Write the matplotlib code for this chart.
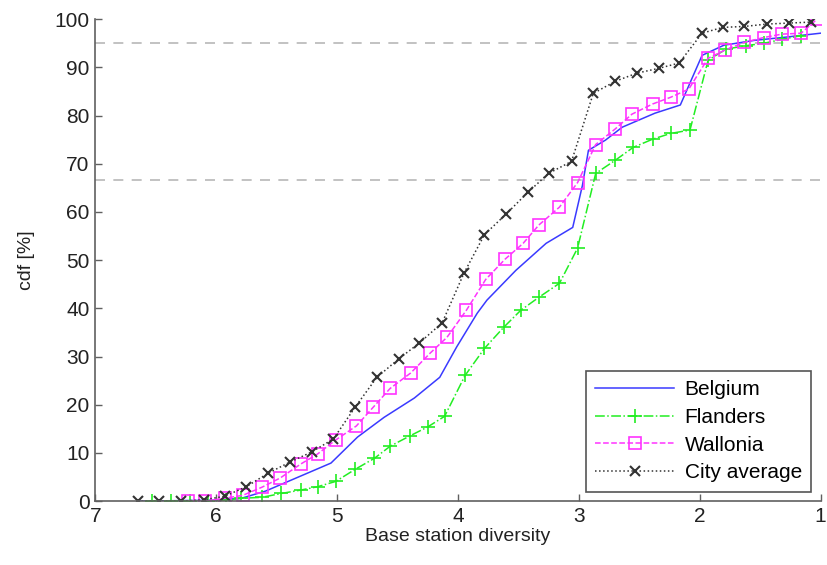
import matplotlib
matplotlib.use("Agg")
import matplotlib.pyplot as plt

plt.rcParams['font.family'] = ['Liberation Sans', 'DejaVu Sans']

# Belgium (solid line, no markers)
bel_x = [6.65, 6.02, 5.79, 5.59, 5.32, 5.05, 4.83, 4.61, 4.36, 4.15, 4.01, 3.84,
         3.76, 3.52, 3.27, 3.05, 2.97, 2.92, 2.78, 2.64, 2.37, 2.16, 1.98, 1.80,
         1.55, 1.28, 1.00]
bel_y = [0, 0.2, 0.6, 2.1, 5.0, 7.9, 13.3, 17.4, 21.4, 25.7, 32.0, 39.0,
         41.7, 47.9, 53.5, 56.8, 65.5, 72.8, 74.9, 77.6, 80.5, 82.2, 92.5, 94.6,
         95.6, 96.3, 97.1]

# Flanders
fla_x = [6.53, 6.37, 6.22, 6.07, 5.92, 5.79, 5.62, 5.46, 5.30, 5.16, 5.01, 4.85,
         4.69, 4.56, 4.40, 4.25, 4.11, 3.94, 3.78, 3.62, 3.48, 3.33, 3.16, 3.01,
         2.86, 2.70, 2.55, 2.39, 2.24, 2.08, 1.93, 1.78, 1.62, 1.47, 1.32, 1.16]
fla_y = [0, 0, 0, 0, 0.2, 0.6, 0.8, 1.6, 2.3, 3.0, 4.1, 6.6,
         8.9, 11.4, 13.5, 15.4, 17.6, 26.1, 31.7, 36.1, 39.6, 42.3, 45.2, 52.5,
         68.0, 70.7, 73.4, 75.1, 76.3, 77.0, 91.5, 93.8, 94.5, 95.0, 95.8, 96.6]

# Wallonia
wal_x = [6.23, 6.09, 5.93, 5.78, 5.62, 5.47, 5.30, 5.16, 5.01, 4.84, 4.70, 4.56,
         4.39, 4.23, 4.09, 3.93, 3.77, 3.61, 3.46, 3.33, 3.16, 3.01, 2.86, 2.70,
         2.56, 2.39, 2.24, 2.09, 1.93, 1.79, 1.63, 1.47, 1.32, 1.16, 1.03]
wal_y = [0, 0, 0.6, 1.2, 2.9, 4.8, 7.7, 9.8, 12.7, 15.6, 19.5, 23.4,
         26.6, 30.7, 34.0, 39.6, 46.0, 50.2, 53.5, 57.3, 61.0, 66.1, 74.0, 77.2,
         80.3, 82.4, 83.8, 85.5, 91.9, 93.6, 95.2, 96.2, 96.9, 97.1, 100.0]

# City average
city_x = [6.65, 6.47, 6.29, 6.10, 5.93, 5.75, 5.57, 5.39, 5.21, 5.03, 4.85, 4.67,
          4.49, 4.32, 4.13, 3.95, 3.78, 3.60, 3.42, 3.25, 3.06, 2.88, 2.70, 2.52,
          2.34, 2.17, 1.98, 1.81, 1.63, 1.44, 1.26, 1.08]
city_y = [0, 0, 0, 0.3, 1.0, 3.0, 5.8, 8.1, 10.2, 12.9, 19.5, 25.7,
          29.5, 32.8, 37.0, 47.3, 55.3, 59.6, 64.1, 68.0, 70.5, 84.6, 87.1, 88.8,
          89.8, 90.9, 97.1, 98.3, 98.5, 99.0, 99.2, 99.4]

ref_levels = [95, 66.7]

fig = plt.figure(figsize=(8.28, 5.65), dpi=100)
ax = fig.add_axes([0.115, 0.113, 0.876, 0.853])

for lvl in ref_levels:
    ax.axhline(lvl, color='#b8b8b8', linestyle=(0, (6, 5)), linewidth=1.2, zorder=1)

ax.plot(bel_x, bel_y, color='#3a3aff', linestyle='-', linewidth=1.1, label='Belgium')
ax.plot(fla_x, fla_y, color='#22ee22', linestyle='-.', linewidth=1.1,
        marker='+', markersize=10, markeredgewidth=1.2, label='Flanders')
ax.plot(wal_x, wal_y, color='#ff33ff', linestyle='--', linewidth=1.1,
        marker='s', markersize=8, markerfacecolor='none', markeredgewidth=1.2,
        label='Wallonia')
ax.plot(city_x, city_y, color='#333333', linestyle=':', linewidth=1.1,
        marker='x', markersize=7, markeredgewidth=1.5, label='City average')

ax.set_xlim(7, 1)
ax.set_ylim(0, 100)
ax.set_xticks([7, 6, 5, 4, 3, 2, 1])
ax.set_yticks(range(0, 101, 10))

for side in ['top', 'right']:
    ax.spines[side].set_visible(False)
for side in ['left', 'bottom']:
    ax.spines[side].set_color('#606060')
    ax.spines[side].set_linewidth(1.2)

ax.tick_params(direction='in', length=5, width=1, colors='#606060',
               labelsize=15, labelcolor='#222222', pad=4)

ax.set_xlabel('Base station diversity', fontsize=14, color='#222222', labelpad=2)
ax.set_ylabel('cdf [%]', fontsize=14, color='#222222', labelpad=14)

leg = ax.legend(loc='lower right', fontsize=15, handlelength=3.8,
                labelspacing=0.42, borderpad=0.45, handletextpad=0.5,
                borderaxespad=0.45, fancybox=False, framealpha=1,
                edgecolor='#555555')
leg.get_frame().set_linewidth(1.2)

fig.savefig('out.png', dpi=100)
